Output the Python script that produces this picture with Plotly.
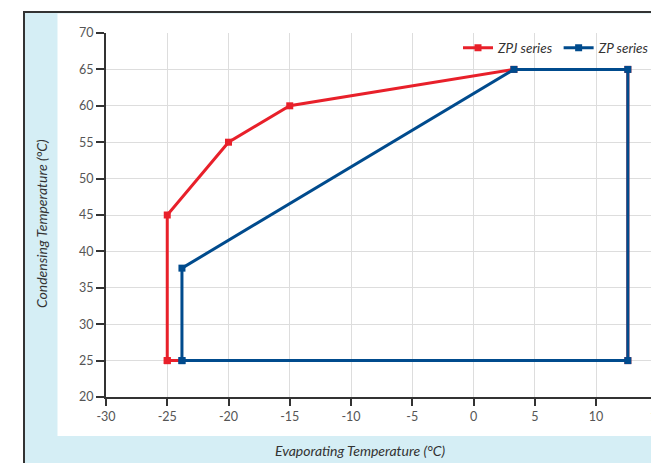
import plotly.graph_objects as go

# Data
zpj_x = [-25, -25, -20, -15, 3.3, 12.6, 12.6, -25]
zpj_y = [25, 45, 55, 60, 65, 65, 25, 25]
zp_x = [-23.8, -23.8, 3.3, 12.6, 12.6, -23.8]
zp_y = [25, 37.7, 65, 65, 25, 25]
x_ticks = [-30, -25, -20, -15, -10, -5, 0, 5, 10, 15]
y_ticks = [20, 25, 30, 35, 40, 45, 50, 55, 60, 65, 70]

# The page body adds an 8px offset; margins compensate so the plot lands
# where the reference has it (window coords).
OFF = 8
W, H = 659, 463
L, T = 106 - OFF, 33 - OFF
PW, PH = 553, 364
R = W - L - PW
B = H - T - PH

def px(xw):
    return (xw - OFF - L) / PW

def py(yw):
    return (T + PH - (yw - OFF)) / PH

RED = "#e8202a"
BLUE = "#004b8d"
FONT = "Lato"

fig = go.Figure()
fig.add_trace(go.Scatter(x=zpj_x, y=zpj_y, mode="lines+markers", name="ZPJ series",
                         line=dict(color=RED, width=3),
                         marker=dict(symbol="square", size=7, color=RED)))
fig.add_trace(go.Scatter(x=zp_x, y=zp_y, mode="lines+markers", name="ZP series",
                         line=dict(color=BLUE, width=3),
                         marker=dict(symbol="square", size=7, color=BLUE)))

shapes = [
    dict(type="rect", xref="paper", yref="paper", layer="below",
         x0=px(24), x1=px(720), y0=py(490), y1=py(12),
         fillcolor="#d5eef5", line=dict(color="#333333", width=2)),
    dict(type="rect", xref="paper", yref="paper", layer="below",
         x0=px(57.5), x1=px(720), y0=py(436), y1=py(13.5),
         fillcolor="#ffffff", line=dict(width=0)),
]

annotations = [
    dict(text="<i>Evaporating Temperature (°C)</i>", xref="paper", yref="paper",
         x=px(360), y=py(451), showarrow=False, xanchor="center", yanchor="middle",
         font=dict(family=FONT, size=14, color="#333333")),
    dict(text="<i>Condensing Temperature (°C)</i>", xref="paper", yref="paper",
         x=px(41), y=py(224), showarrow=False, xanchor="center", yanchor="middle",
         textangle=-90, font=dict(family=FONT, size=14, color="#333333")),
]

fig.update_layout(
    width=W, height=H,
    margin=dict(l=L, r=R, t=T, b=B, autoexpand=False),
    paper_bgcolor="#ffffff",
    plot_bgcolor="rgba(0,0,0,0)",
    font=dict(family=FONT, size=12.5, color="#555555"),
    shapes=shapes,
    annotations=annotations,
    legend=dict(orientation="h", x=px(655), y=py(48), xanchor="right", yanchor="middle",
                bgcolor="rgba(0,0,0,0)", itemwidth=30,
                font=dict(family=FONT, size=13.5, color="#333333", style="italic")),
    xaxis=dict(range=[-30, -30 + PW / 12.25], tickvals=x_ticks,
               ticktext=[str(v) for v in x_ticks], automargin=False,
               showgrid=True, gridcolor="#dddddd", gridwidth=1,
               showline=True, linecolor="#333333", linewidth=2,
               ticks="outside", ticklen=7, tickwidth=2, tickcolor="#333333",
               zeroline=False),
    yaxis=dict(range=[20, 70], tickvals=y_ticks, automargin=False,
               showgrid=True, gridcolor="#dddddd", gridwidth=1,
               showline=True, linecolor="#333333", linewidth=2,
               ticks="outside", ticklen=8, tickwidth=2, tickcolor="#333333",
               zeroline=False),
)

fig.write_html("out.html")
